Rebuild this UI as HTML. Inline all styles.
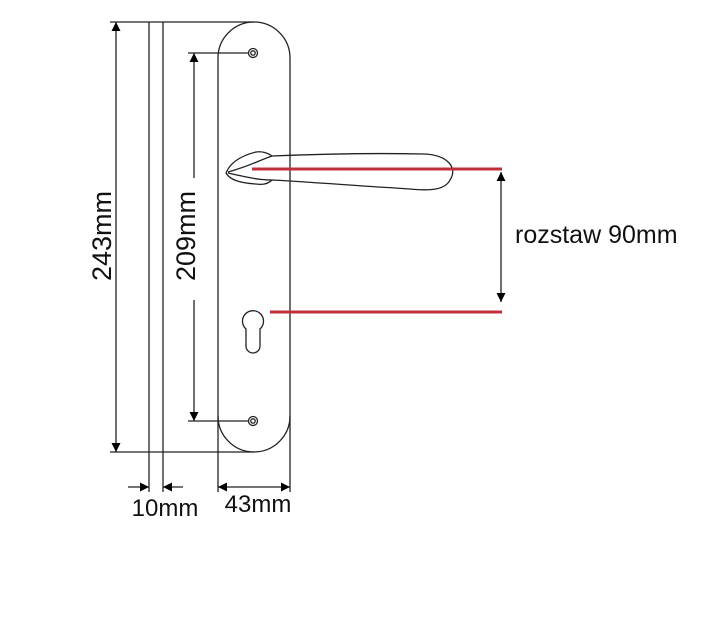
<!DOCTYPE html>
<html><head><meta charset="utf-8"><style>
html,body{margin:0;padding:0;background:#fff;}
svg{display:block;}
text{font-family:"Liberation Sans",sans-serif;fill:#111;}
</style></head><body>
<svg width="710" height="638" viewBox="0 0 710 638" xmlns="http://www.w3.org/2000/svg">
<defs>
<marker id="a" viewBox="0 0 10 10" refX="10" refY="5" markerWidth="9" markerHeight="9" orient="auto-start-reverse" markerUnits="userSpaceOnUse"><path d="M0,0 L10,5 L0,10 z" fill="#000"/></marker>
</defs>
<g stroke="#222" stroke-width="1.3" fill="none">
<line x1="110" y1="22" x2="254" y2="22"/>
<line x1="110" y1="452" x2="254" y2="452"/>
<line x1="149" y1="22" x2="149" y2="492"/>
<line x1="163" y1="22" x2="163" y2="492"/>
<path d="M218,492 L218,58 A36,36 0 0 1 290,58 L290,492"/>
<path d="M218,416 A36,36 0 0 0 290,416"/>
<circle cx="253" cy="53" r="4.5"/><circle cx="253" cy="53" r="2.2"/>
<circle cx="253" cy="421" r="4.5"/><circle cx="253" cy="421" r="2.2"/>
<line x1="188" y1="53" x2="248" y2="53"/>
<line x1="188" y1="421" x2="248" y2="421"/>
<path d="M246,329 A10.5,10.5 0 1 1 260,329 L260,346 A7,7 0 0 1 246,346 Z"/>
<path d="M226,173 C230,163 240,156 256,152 C262,151 268,153 272,156 C320,154 380,153 424,154 C448,155 458,168 450,180 C445,190 430,191 410,189 C360,186 310,182 272,180 C268,184 262,185 256,184 C240,183 230,180 226,173 Z"/>
<path d="M228,172 C250,166 260,160 272,156"/>
<path d="M228,173 C250,178 260,180 272,180"/>
<line x1="116" y1="22" x2="116" y2="452" marker-start="url(#a)" marker-end="url(#a)"/>
<line x1="194" y1="53" x2="194" y2="178" marker-start="url(#a)"/>
<line x1="194" y1="300" x2="194" y2="421" marker-end="url(#a)"/>
<line x1="128" y1="487" x2="149" y2="487" marker-end="url(#a)"/>
<line x1="183" y1="487" x2="163" y2="487" marker-end="url(#a)"/>
<line x1="218" y1="487" x2="290" y2="487" marker-start="url(#a)" marker-end="url(#a)"/>
<line x1="501" y1="172" x2="501" y2="302" marker-start="url(#a)" marker-end="url(#a)"/>
</g>
<g stroke="#c0303a" stroke-width="3">
<line x1="252" y1="169" x2="502" y2="169"/>
<line x1="270" y1="312" x2="502" y2="312"/>
</g>
<text x="515" y="243" font-size="25">rozstaw 90mm</text>
<text transform="translate(111,236) rotate(-90)" font-size="27" text-anchor="middle">243mm</text>
<text transform="translate(195,236) rotate(-90)" font-size="27" text-anchor="middle">209mm</text>
<text x="165" y="516" font-size="24" text-anchor="middle">10mm</text>
<text x="258" y="512" font-size="24" text-anchor="middle">43mm</text>
</svg>
</body></html>
